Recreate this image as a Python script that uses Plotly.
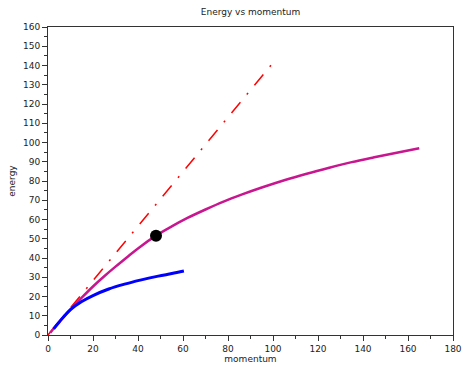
import plotly.graph_objects as go

# Momentum / energy samples for each curve
p_linear = [0, 20, 40, 60, 80, 100]
e_linear = [0, 28.3, 56.6, 84.9, 113.1, 141.4]

p_upper = [1, 3, 6, 10, 15, 20, 25, 30, 35, 40, 48, 55, 62, 70, 78, 86, 95, 105,
           115, 125, 135, 145, 155, 165]
e_upper = [1.2, 4.0, 8.1, 13.3, 19.4, 25.2, 30.5, 35.5, 40.3, 45.0, 51.6, 56.4, 60.8,
           65.2, 69.3, 72.9, 76.6, 80.4, 83.8, 86.9, 89.8, 92.3, 94.7, 97.0]

p_lower = [2.5, 5, 10, 15, 20, 27, 34, 41, 49, 55, 60.4]
e_lower = [3.2, 6.8, 13.2, 17.4, 20.5, 23.9, 26.4, 28.5, 30.6, 31.9, 33.2]

p_point = [48]
e_point = [51.6]

font = dict(family="DejaVu Sans", size=9, color="#222")

fig = go.Figure()
fig.add_trace(go.Scatter(x=p_linear, y=e_linear, mode="lines",
                         line=dict(color="#ff0000", width=1.5, dash="14px,10px,2px,10px")))
fig.add_trace(go.Scatter(x=p_upper, y=e_upper, mode="lines", line_shape="spline",
                         line=dict(color="#c8168f", width=2.5)))
fig.add_trace(go.Scatter(x=p_lower, y=e_lower, mode="lines", line_shape="spline",
                         line=dict(color="#0000ff", width=3)))
fig.add_trace(go.Scatter(x=p_point, y=e_point, mode="markers",
                         marker=dict(color="black", size=12)))

axis_common = dict(showgrid=False, zeroline=False, showline=True, linecolor="#333",
                   linewidth=1, mirror=True, ticks="outside", ticklen=5, tickcolor="#333",
                   tickfont=font, automargin=False, ticklabeloverflow="allow")

fig.update_layout(
    width=463, height=367,
    margin=dict(l=48, r=10, t=27, b=32),
    paper_bgcolor="white", plot_bgcolor="white",
    showlegend=False,
    font=font,
    title=dict(text="Energy vs momentum", xref="paper", x=0.5, xanchor="center",
               y=0.967, yanchor="middle",
               font=dict(family="DejaVu Sans", size=9, color="#222")),
    xaxis=dict(range=[0, 180], dtick=20, tick0=0,
               minor=dict(dtick=10, ticks="outside", ticklen=3, tickcolor="#333"),
               title=dict(text="momentum", standoff=2, font=font), **axis_common),
    yaxis=dict(range=[0, 160], dtick=10, tick0=0,
               minor=dict(dtick=5, ticks="outside", ticklen=3, tickcolor="#333"),
               title=dict(text="energy", standoff=5, font=font), **axis_common),
)

fig.write_html("out.html")
